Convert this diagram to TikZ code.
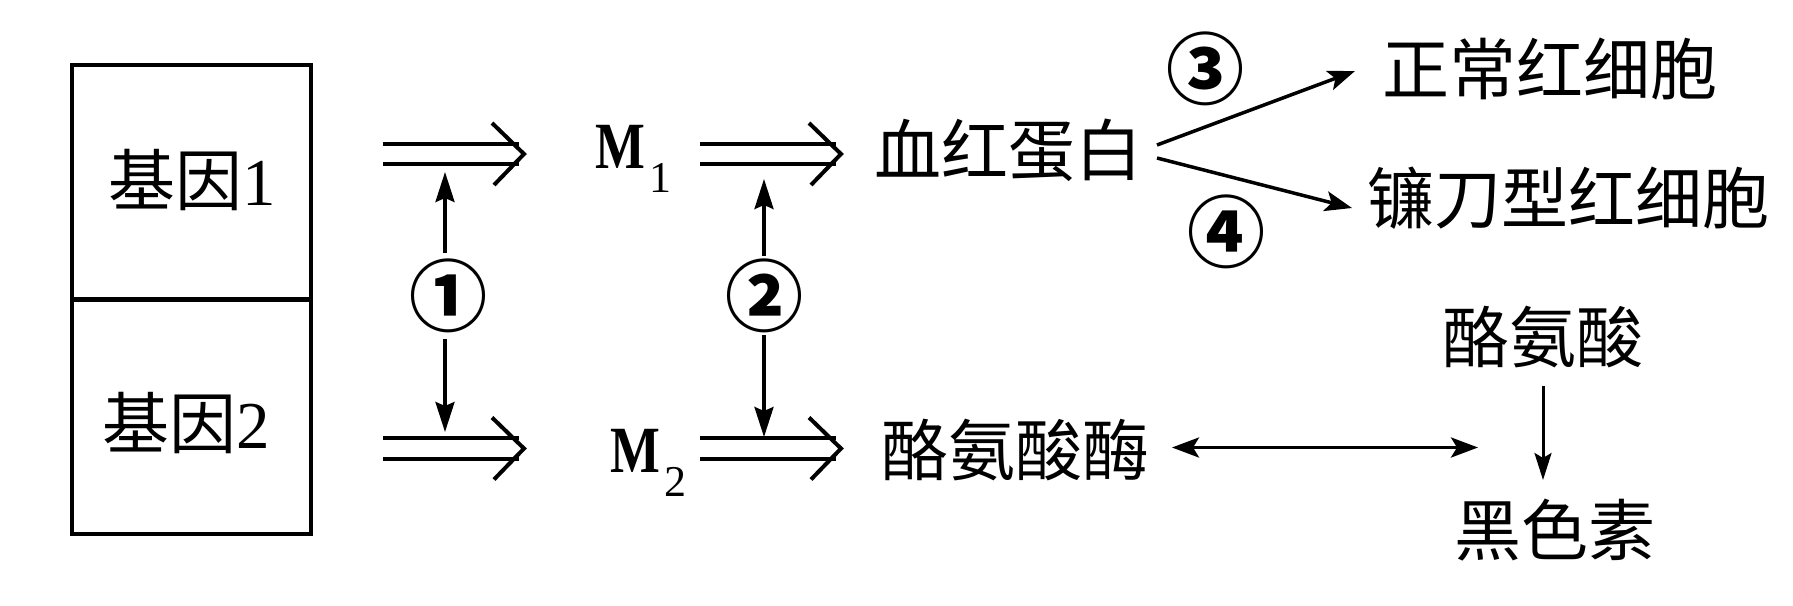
\documentclass[tikz,border=0pt]{standalone}
\usepackage{fontspec}
\setmainfont{Liberation Serif}
\newfontfamily\cjk{Noto Sans CJK SC}
\usetikzlibrary{arrows.meta}
\newcommand\dblarr[2]{%
  \draw[dline] ([yshift=10.25pt]#1) -- ([xshift=-5pt,yshift=10.25pt]#2);
  \draw[dline] ([yshift=-10.25pt]#1) -- ([xshift=-5pt,yshift=-10.25pt]#2);
  \draw[dline] ([xshift=-32pt,yshift=31pt]#2) -- (#2) -- ([xshift=-30pt,yshift=-31pt]#2);
}
\tikzset{
  txt/.style={inner sep=0pt, font=\cjk\fontsize{67}{67}\selectfont},
  circ/.style={inner sep=0pt, font=\cjk\bfseries\fontsize{78}{78}\selectfont},
  mtxt/.style={inner sep=0pt, anchor=base west, font=\fontsize{66}{66}\selectfont\bfseries},
  gbox/.style={draw, line width=4pt, minimum width=239pt, minimum height=235pt, inner sep=0pt},
  dline/.style={line width=4pt},
  varr/.style={line width=3.5pt, -{Stealth[length=30pt,width=19pt,inset=4pt]}},
  sarr/.style={line width=3.5pt, -{Stealth[length=27pt,width=20pt,inset=6pt]}},
  harr/.style={line width=3.5pt, {Stealth[length=27pt,width=20pt,inset=6pt]}-{Stealth[length=27pt,width=20pt,inset=6pt]}},
  tarr/.style={line width=3pt, -{Stealth[length=27pt,width=17pt,inset=5pt]}},
}
\begin{document}
\begin{tikzpicture}[x=1pt,y=-1pt]
\useasboundingbox (0,0) rectangle (1793,605);
% boxes
\node[gbox] (b1) at (191.5,182.5) {};
\node[gbox] (b2) at (191.5,416) {};
\node[txt] (g1) at (192,180) {基因{\rmfamily 1}};
\node[txt] (g2) at (186,423) {基因{\rmfamily 2}};
% M nodes
\node[mtxt] (m1) at (595,168.5) {\scalebox{0.8}[1]{M}\hspace{4pt}\raisebox{-24pt}{\fontsize{44}{44}\selectfont\mdseries 1}};
\node[mtxt] (m2) at (610,472) {\scalebox{0.8}[1]{M}\hspace{4pt}\raisebox{-24pt}{\fontsize{44}{44}\selectfont\mdseries 2}};
% texts
\node[txt] (hb) at (1008,150) {血红蛋白};
\node[txt] (zc) at (1550,69) {正常红细胞};
\node[txt] (lx) at (1568,198) {镰刀型红细胞};
\node[txt] (lac) at (1543,337) {酪氨酸};
\node[txt] (hs) at (1555,530) {黑色素};
\node[txt] (lam) at (1015,450) {酪氨酸酶};
% circled numbers
\node[circ] (c1) at (448,296) {①};
\node[circ] (c2) at (764,296) {②};
\node[circ] (c3) at (1205,69) {③};
\node[circ] (c4) at (1226,232) {④};
% double arrows
\coordinate (d1s) at (383,154); \coordinate (d1e) at (524,154);
\coordinate (d2s) at (383,448.5); \coordinate (d2e) at (524,448.5);
\coordinate (d3s) at (700,154); \coordinate (d3e) at (841,154);
\coordinate (d4s) at (700,448.5); \coordinate (d4e) at (841,448.5);
\dblarr{d1s}{d1e}
\dblarr{d2s}{d2e}
\dblarr{d3s}{d3e}
\dblarr{d4s}{d4e}
% vertical arrows
\coordinate (v1a) at (445,253); \coordinate (v1b) at (445,172);
\coordinate (v1c) at (445,339); \coordinate (v1d) at (445,432);
\coordinate (v2a) at (764,256); \coordinate (v2b) at (764,179);
\coordinate (v2c) at (764,335); \coordinate (v2d) at (764,437);
\draw[varr] (v1a) -- (v1b);
\draw[varr] (v1c) -- (v1d);
\draw[varr] (v2a) -- (v2b);
\draw[varr] (v2c) -- (v2d);
% branch arrows
\coordinate (h3s) at (1157,145); \coordinate (h3e) at (1355,71);
\coordinate (h4s) at (1157,158); \coordinate (h4e) at (1352,208);
\draw[sarr] (h3s) -- (h3e);
\draw[sarr] (h4s) -- (h4e);
% tyrosinase
\coordinate (ls) at (1172,447.5); \coordinate (le) at (1478,447.5);
\draw[harr] (ls) -- (le);
\coordinate (ts) at (1543,386); \coordinate (te) at (1543,480);
\draw[tarr] (ts) -- (te);
\end{tikzpicture}
\end{document}
